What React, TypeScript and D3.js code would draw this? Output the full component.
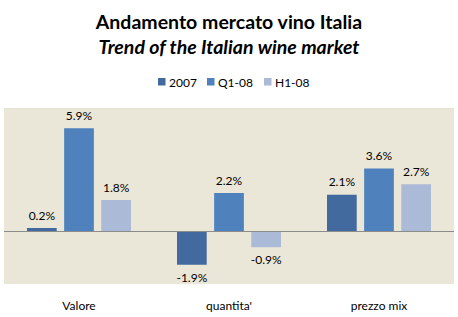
import React from "react";
import * as d3 from "d3";

const categories = ["Valore", "quantita'", "prezzo mix"];
const seriesNames = ["2007", "Q1-08", "H1-08"];
const values2007 = [0.2, -1.9, 2.1];
const valuesQ108 = [5.9, 2.2, 3.6];
const valuesH108 = [1.8, -0.9, 2.7];
const colors = ["#426A9E", "#4F81BD", "#AABAD7"];

const W = 458, H = 317;
const plot = { left: 4, right: 454, top: 109, bottom: 284 };
const FONT = "Lato, 'Open Sans', sans-serif";

export default function App() {
  const series = [values2007, valuesQ108, valuesH108];
  const x0 = d3.scaleBand<string>().domain(categories).range([plot.left, plot.right]).paddingInner(0).paddingOuter(0);
  const x1 = d3.scaleBand<string>().domain(seriesNames).range([23, 127]).paddingInner(0.2);
  const y = d3.scaleLinear().domain([-3, 7]).range([plot.bottom, plot.top]);
  const fmt = (v: number) => v.toFixed(1) + "%";

  const legendX = [158, 207, 264];

  return (
    <svg width={W} height={H} style={{ position: "absolute", left: 0, top: 0 }} fontFamily={FONT}>
      <rect x={0} y={0} width={W} height={H} fill="#fff" />
      <text x={229} y={29} textAnchor="middle" fontSize={19.5} fontWeight="bold" fill="#000">Andamento mercato vino Italia</text>
      <text x={229} y={54} textAnchor="middle" fontSize={19.5} fontWeight="bold" fontStyle="italic" fill="#000">Trend of the Italian wine market</text>
      {seriesNames.map((s, i) => (
        <g key={s}>
          <rect x={legendX[i]} y={78} width={7.5} height={7.5} fill={colors[i]} />
          <text x={legendX[i] + 11} y={86.5} fontSize={12} fill="#000">{s}</text>
        </g>
      ))}
      <rect x={plot.left} y={plot.top} width={plot.right - plot.left} height={plot.bottom - plot.top} fill="#EBE7D8" />
      <line x1={plot.left} x2={plot.right} y1={plot.top - 0.5} y2={plot.top - 0.5} stroke="#E4E1D4" />
      {categories.map((c, ci) => (
        <g key={c} transform={`translate(${x0(c)},0)`}>
          {series.map((vals, si) => {
            const v = vals[ci];
            const bx = x1(seriesNames[si])!;
            const bw = x1.bandwidth();
            const y0 = y(0), yv = y(v);
            return (
              <g key={si}>
                <rect x={bx} y={Math.min(y0, yv)} width={bw} height={Math.abs(yv - y0)} fill={colors[si]} />
                <text x={bx + bw / 2} y={v >= 0 ? yv - 8.5 : yv + 17} textAnchor="middle" fontSize={12} fill="#000">{fmt(v)}</text>
              </g>
            );
          })}
          <text x={x0.bandwidth() / 2} y={310} textAnchor="middle" fontSize={12} fill="#000">{c}</text>
        </g>
      ))}
      <line x1={plot.left} x2={plot.right} y1={y(0)} y2={y(0)} stroke="#8C8C8C" strokeWidth={1} />
    </svg>
  );
}
